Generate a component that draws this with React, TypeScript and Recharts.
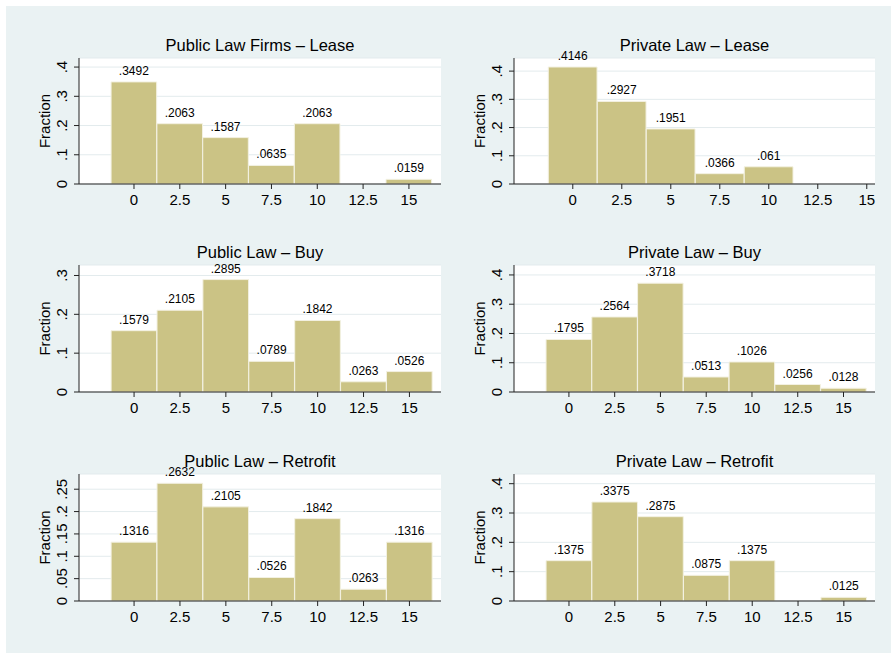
import React from 'react';
import { BarChart, Bar, XAxis, YAxis, CartesianGrid, LabelList } from 'recharts';

const bins = [0, 2.5, 5, 7.5, 10, 12.5, 15];
const xTicks = [0, 2.5, 5, 7.5, 10, 12.5, 15];
const binWidth = 2.5;

const publicLease = [0.3492, 0.2063, 0.1587, 0.0635, 0.2063, null, 0.0159];
const privateLease = [0.4146, 0.2927, 0.1951, 0.0366, 0.061, null, null];
const publicBuy = [0.1579, 0.2105, 0.2895, 0.0789, 0.1842, 0.0263, 0.0526];
const privateBuy = [0.1795, 0.2564, 0.3718, 0.0513, 0.1026, 0.0256, 0.0128];
const publicRetrofit = [0.1316, 0.2632, 0.2105, 0.0526, 0.1842, 0.0263, 0.1316];
const privateRetrofit = [0.1375, 0.3375, 0.2875, 0.0875, 0.1375, null, 0.0125];

const yTicksTenth = [0, 0.1, 0.2, 0.3, 0.4];
const yTicksPublicBuy = [0, 0.1, 0.2, 0.3];
const yTicksPublicRetrofit = [0, 0.05, 0.1, 0.15, 0.2, 0.25];

const FONT = '"Liberation Sans", Arial, Helvetica, sans-serif';
const BAR_FILL = '#cbc385';
const BG = '#eaf2f3';

const fmt = (v: any) => {
  const n = Number(v);
  if (n === 0) return '0';
  return String(n).replace(/^0\./, '.');
};

type Panel = {
  title: string;
  values: (number | null)[];
  yTicks: number[];
  yMax: number;
  xMin: number;
  xMax: number;
  col: number;
  row: number;
};

const panels: Panel[] = [
  { title: 'Public Law Firms \u2013 Lease', values: publicLease, yTicks: yTicksTenth, yMax: 0.431, xMin: -3, xMax: 16.75, col: 0, row: 0 },
  { title: 'Private Law \u2013 Lease', values: privateLease, yTicks: yTicksTenth, yMax: 0.4465, xMin: -3, xMax: 15.42, col: 1, row: 0 },
  { title: 'Public Law \u2013 Buy', values: publicBuy, yTicks: yTicksPublicBuy, yMax: 0.327, xMin: -3, xMax: 16.72, col: 0, row: 1 },
  { title: 'Private Law \u2013 Buy', values: privateBuy, yTicks: yTicksTenth, yMax: 0.434, xMin: -3, xMax: 16.72, col: 1, row: 1 },
  { title: 'Public Law \u2013 Retrofit', values: publicRetrofit, yTicks: yTicksPublicRetrofit, yMax: 0.284, xMin: -3, xMax: 16.72, col: 0, row: 2 },
  { title: 'Private Law \u2013 Retrofit', values: privateRetrofit, yTicks: yTicksTenth, yMax: 0.433, xMin: -3, xMax: 16.7, col: 1, row: 2 },
];

const cols = [
  { chartLeft: 10, width: 440 },
  { chartLeft: 445, width: 439 },
];
const rows = [
  { plotTop: 58, plotH: 126 },
  { plotTop: 265, plotH: 127 },
  { plotTop: 474, plotH: 127 },
];

const M = { top: 28, right: 9, left: 19, bottom: 5 };
const Y_W = 50;
const X_H = 30;

const YTick = (props: any) => {
  const { x, y, payload } = props;
  const bx = x - 5;
  return (
    <text
      x={bx}
      y={y}
      transform={`rotate(-90 ${bx} ${y})`}
      textAnchor="middle"
      fontSize={15}
      fill="#000"
      fontFamily={FONT}
    >
      {fmt(payload.value)}
    </text>
  );
};

const FractionLabel = (props: any) => {
  const vb = props.viewBox || { x: 0, y: 0, width: 0, height: 0 };
  const cx = vb.x + 15;
  const cy = vb.y + vb.height / 2;
  return (
    <text
      x={cx}
      y={cy}
      transform={`rotate(-90 ${cx} ${cy})`}
      textAnchor="middle"
      dominantBaseline="central"
      fontSize={15}
      fill="#000"
      fontFamily={FONT}
    >
      Fraction
    </text>
  );
};

const PanelChart = ({ p }: { p: Panel }) => {
  const c = cols[p.col];
  const r = rows[p.row];
  const plotW = c.width - M.left - M.right - Y_W;
  const height = M.top + r.plotH + X_H + M.bottom;
  const top = r.plotTop - M.top;
  const data = bins
    .map((b, i) => ({ bin: b, v: p.values[i] }))
    .filter((d) => d.v !== null && d.v !== undefined);
  const barSize = ((plotW * binWidth) / (p.xMax - p.xMin)) * 0.995;
  const plotLeft = c.chartLeft + M.left + Y_W;
  return (
    <>
      <div
        style={{
          position: 'absolute',
          left: plotLeft,
          top: r.plotTop - 7 - 14,
          width: plotW,
          textAlign: 'center',
          fontSize: 16.5,
          lineHeight: '16.5px',
          fontFamily: FONT,
          color: '#000',
          whiteSpace: 'nowrap',
        }}
      >
        {p.title}
      </div>
      <div style={{ position: 'absolute', left: c.chartLeft, top }}>
        <BarChart width={c.width} height={height} data={data} margin={M} barCategoryGap={0} barGap={0}>
          <CartesianGrid horizontal vertical={false} fill="#ffffff" stroke="#e3ebed" strokeWidth={1} />
          <XAxis
            dataKey="bin"
            type="number"
            domain={[p.xMin, p.xMax]}
            ticks={xTicks}
            interval={0}
            height={X_H}
            tickSize={5}
            tickMargin={5}
            tick={{ fill: '#000', fontSize: 15, fontFamily: FONT }}
            stroke="#222"
            tickFormatter={(v: any) => String(v)}
            allowDataOverflow
          />
          <YAxis
            type="number"
            domain={[0, p.yMax]}
            ticks={p.yTicks}
            interval={0}
            width={Y_W}
            tickSize={5}
            tickMargin={2}
            tick={<YTick />}
            stroke="#222"
            allowDataOverflow
            label={<FractionLabel />}
          />
          <Bar
            dataKey="v"
            fill={BAR_FILL}
            stroke="#f3f1e2"
            strokeWidth={1}
            barSize={barSize}
            isAnimationActive={false}
          >
            <LabelList
              dataKey="v"
              position="top"
              offset={7}
              formatter={(v: any) => fmt(v)}
              style={{ fill: '#000', fontSize: 12, fontFamily: FONT }}
            />
          </Bar>
        </BarChart>
      </div>
    </>
  );
};

export default function App() {
  return (
    <div
      style={{
        position: 'absolute',
        left: 0,
        top: 0,
        width: 891,
        height: 653,
        background: '#ffffff',
        overflow: 'hidden',
        fontFamily: FONT,
      }}
    >
      <div style={{ position: 'absolute', left: 6, top: 6, width: 885, height: 647, background: BG }} />
      {panels.map((p, i) => (
        <PanelChart key={i} p={p} />
      ))}
    </div>
  );
}
